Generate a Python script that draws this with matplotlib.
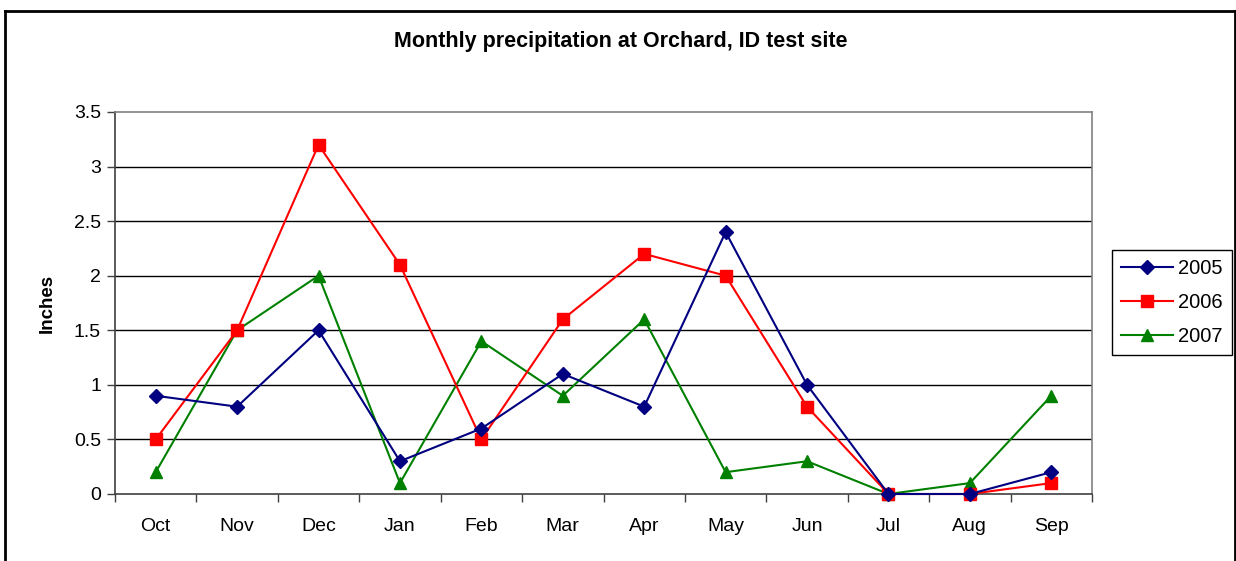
import matplotlib
matplotlib.use("Agg")
import matplotlib.pyplot as plt
from matplotlib.lines import Line2D

months = ["Oct", "Nov", "Dec", "Jan", "Feb", "Mar", "Apr", "May", "Jun", "Jul", "Aug", "Sep"]
y2005 = [0.9, 0.8, 1.5, 0.3, 0.6, 1.1, 0.8, 2.4, 1.0, 0.0, 0.0, 0.2]
y2006 = [0.5, 1.5, 3.2, 2.1, 0.5, 1.6, 2.2, 2.0, 0.8, 0.0, 0.0, 0.1]
y2007 = [0.2, 1.5, 2.0, 0.1, 1.4, 0.9, 1.6, 0.2, 0.3, 0.0, 0.1, 0.9]
yticks = [0, 0.5, 1, 1.5, 2, 2.5, 3, 3.5]
ytick_labels = ["0", "0.5", "1", "1.5", "2", "2.5", "3", "3.5"]

plt.rcParams['font.family'] = ['Liberation Sans', 'DejaVu Sans']

W, H = 1236, 561
fig = plt.figure(figsize=(W / 100, H / 100), dpi=100)
ax = fig.add_axes([115 / W, 1 - 494 / H, (1092 - 115) / W, (494 - 112) / H])

x = list(range(len(months)))
ax.plot(x, y2005, color="#000080", marker="D", markersize=7, lw=1.5, label="2005", clip_on=False, zorder=5)
ax.plot(x, y2006, color="#FF0000", marker="s", markersize=8, lw=1.5, label="2006", clip_on=False, zorder=4)
ax.plot(x, y2007, color="#008000", marker="^", markersize=9, lw=1.5, label="2007", clip_on=False, zorder=3)

ax.set_xlim(-0.5, len(months) - 0.5)
ax.set_ylim(0, 3.5)
ax.set_yticks(yticks)
ax.set_yticklabels(ytick_labels, fontsize=14)
ax.set_xticks([i - 0.5 for i in range(len(months) + 1)])
ax.set_xticklabels([])
ax.set_xticks(x, minor=True)
ax.set_xticklabels(months, minor=True, fontsize=14)
ax.tick_params(axis="x", which="minor", length=0, pad=17)
ax.tick_params(axis="x", which="major", length=6, width=1, color="#404040", direction="out")
ax.tick_params(axis="y", length=6, width=1, color="#404040", direction="out", pad=4)

for yv in yticks[1:-1]:
    ax.axhline(yv, color="black", lw=1, zorder=1)

ax.spines["left"].set_color("#404040")
ax.spines["bottom"].set_color("#404040")
ax.spines["top"].set_color("#808080")
ax.spines["right"].set_color("#808080")
for s in ax.spines.values():
    s.set_linewidth(1.2)

ax.set_ylabel("Inches", fontsize=13.5, fontweight="bold", labelpad=13)
fig.text(621 / W, 1 - 42 / H, "Monthly precipitation at Orchard, ID test site",
         ha="center", va="center", fontsize=15.5, fontweight="bold")

leg = ax.legend(loc="upper left", bbox_to_anchor=(1112 / W, 1 - 250 / H),
                bbox_transform=fig.transFigure, fontsize=14.5, frameon=True,
                fancybox=False, framealpha=1, edgecolor="black",
                handlelength=2.6, borderpad=0.45, labelspacing=0.75, handletextpad=0.25,
                borderaxespad=0)
leg.get_frame().set_linewidth(1.0)

# outer chart frame
fx0, fx1 = 4.5 / W, 1235 / W
fy0 = 1 - 11 / H
fig.add_artist(Line2D([fx0, fx1], [fy0, fy0], transform=fig.transFigure, color="black", lw=2))
fig.add_artist(Line2D([fx0, fx0], [fy0, -0.01], transform=fig.transFigure, color="black", lw=2))
fig.add_artist(Line2D([fx1, fx1], [fy0, -0.01], transform=fig.transFigure, color="black", lw=2))

fig.savefig("out.png", dpi=100)
